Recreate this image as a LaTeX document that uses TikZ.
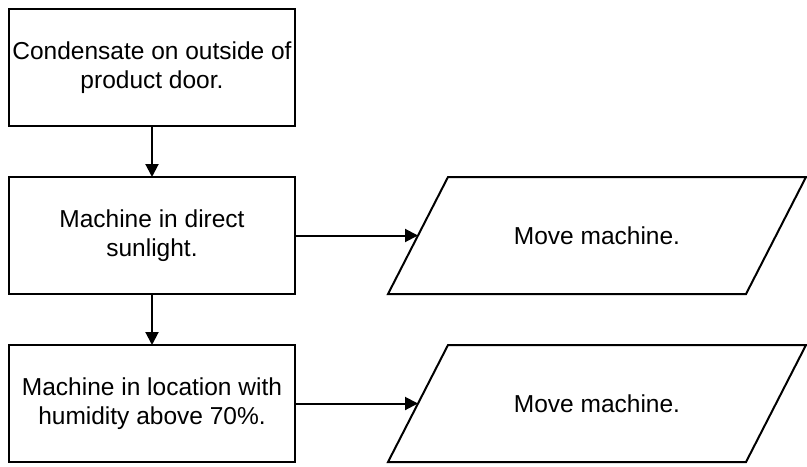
\documentclass[tikz,border=0pt]{standalone}
\usepackage{fontspec}
\setmainfont{Liberation Sans}
\usetikzlibrary{positioning,arrows.meta}
\tikzset{%
stepbox/.style={draw,rectangle,line width=1pt,outer sep=0pt,minimum width=143pt,minimum height=58.5pt,align=center,inner sep=1pt},
actbox/.style={rectangle,outer sep=0pt,minimum width=179pt,minimum height=58.5pt,inner sep=1pt},
slant/.style={line width=1pt,line join=miter},
flow/.style={line width=1pt,-{Triangle[length=6.5pt,width=6.5pt]}},
every node/.style={font=\fontsize{12.25pt}{14.5pt}\selectfont}
}

\begin{document}
\begin{tikzpicture}[node distance=25.5pt]

    \useasboundingbox (0,0) rectangle (403.5pt,-233pt);

    \node[stepbox,anchor=north west] (cond) at (4.5pt,-4.5pt) {Condensate on outside of\\product door.};
    \node[stepbox,below=of cond] (sun) {Machine in direct\\sunlight.};
    \node[stepbox,below=of sun] (humid) {Machine in location with\\humidity above 70\%.};

    \node[actbox,right=61.5pt of sun] (movesun) {Move machine.};
    \node[actbox,right=61.5pt of humid] (movehumid) {Move machine.};

    \foreach \act in {movesun,movehumid}
      \draw[slant] ([xshift=15pt]\act.north west) -- ([xshift=15pt]\act.north east)
        -- ([xshift=-15pt]\act.south east) -- ([xshift=-15pt]\act.south west) -- cycle;

    \draw[flow] (cond) -- (sun);
    \draw[flow] (sun) -- (humid);
    \draw[flow] (sun) -- (movesun);
    \draw[flow] (humid) -- (movehumid);

\end{tikzpicture}
\end{document}
